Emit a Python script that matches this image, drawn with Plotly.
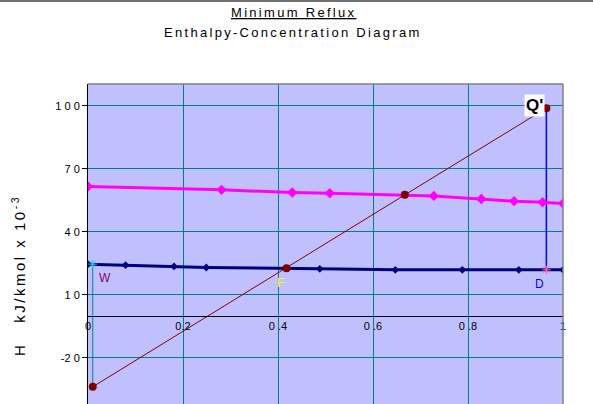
import plotly.graph_objects as go

# Saturated vapour enthalpy curve
vap_x = [0.0, 0.281, 0.43, 0.509, 0.728, 0.828, 0.897, 0.957, 1.0]
vap_h = [61.6, 60.0, 58.7, 58.4, 57.1, 55.6, 54.6, 54.1, 53.5]
# Saturated liquid enthalpy curve
liq_x = [0.0, 0.079, 0.181, 0.249, 0.488, 0.647, 0.788, 0.907, 1.0]
liq_h = [24.6, 24.1, 23.5, 23.0, 22.4, 21.9, 21.9, 21.9, 21.9]
# Minimum-reflux operating line: W', F, intersection with vapour line, Q'
op_x = [0.01, 0.418, 0.667, 0.965]
op_h = [-33.8, 22.7, 57.6, 98.9]
# Compositions
xW = 0.01
xD = 0.965
hW_liq = 24.6
hD_liq = 21.9

x_ticks = [0, 0.2, 0.4, 0.6, 0.8, 1]
x_ticklabels = ["0", "0.2", "0 .4", "0 .6", "0 .8", "1"]
y_ticks = [-20, 10, 40, 70, 100]
y_ticklabels = ["-2 0", "1 0", "4 0", "7 0", "1 0 0"]

YMIN, YMAX = -42.0, 110.4
FONT = "Liberation Sans, Arial, sans-serif"
GRID = "#008080"

fig = go.Figure()

fig.add_trace(go.Scatter(x=[xW, xW], y=[hW_liq, op_h[0]], mode="lines",
                         line=dict(color=GRID, width=1), hoverinfo="skip"))
fig.add_trace(go.Scatter(x=[xD, xD], y=[op_h[-1], hD_liq], mode="lines",
                         line=dict(color="#0000FF", width=1.5), hoverinfo="skip"))
fig.add_trace(go.Scatter(x=vap_x, y=vap_h, mode="lines+markers",
                         line=dict(color="#FF00FF", width=3),
                         marker=dict(symbol="diamond", size=8, color="#FF00FF")))
fig.add_trace(go.Scatter(x=liq_x, y=liq_h, mode="lines+markers",
                         line=dict(color="#000080", width=3),
                         marker=dict(symbol="diamond", size=6, color="#000080")))
fig.add_trace(go.Scatter(x=op_x, y=op_h, mode="lines+markers",
                         line=dict(color="#800000", width=1),
                         marker=dict(symbol="circle", size=8, color="#800000")))
fig.add_trace(go.Scatter(x=[xW], y=[hW_liq], mode="markers",
                         marker=dict(symbol="asterisk-open", size=7,
                                     line=dict(color=GRID, width=1))))
fig.add_trace(go.Scatter(x=[xD], y=[hD_liq], mode="markers",
                         marker=dict(symbol="asterisk-open", size=7,
                                     line=dict(color="#00FFFF", width=1))))

ls = '<span style="letter-spacing:{}px">{}</span>'
ann = [
    dict(text=ls.format(2.3, "<u>Minimum Reflux</u>"), x=293, y=13),
    dict(text=ls.format(2.3, "Enthalpy-Concentration Diagram"), x=293, y=33),
]
annotations = []
for a in ann:
    annotations.append(dict(text=a["text"], xref="paper", yref="paper",
                            x=(a["x"] - 88) / 475, y=(404 - a["y"]) / 320,
                            showarrow=False, xanchor="center", yanchor="middle",
                            font=dict(family=FONT, size=13, color="#000000")))
annotations.append(dict(text=ls.format(2.5, "H   kJ/kmol x 10<sup>-3</sup>"),
                        xref="paper", yref="paper", x=(18 - 88) / 475,
                        y=(404 - 276) / 320, textangle=-90, showarrow=False,
                        xanchor="center", yanchor="middle",
                        font=dict(family=FONT, size=15, color="#000000")))
annotations.append(dict(text="W", x=0.035, y=18.0, xref="x", yref="y", showarrow=False,
                        font=dict(family=FONT, size=12, color="#800080")))
annotations.append(dict(text="F", x=0.405, y=15.5, xref="x", yref="y", showarrow=False,
                        font=dict(family=FONT, size=12, color="#FFFF00")))
annotations.append(dict(text="D", x=0.951, y=15.0, xref="x", yref="y", showarrow=False,
                        font=dict(family=FONT, size=12, color="#0000FF")))
annotations.append(dict(text="<b>Q'</b>", x=(545 - 88) / 475, y=(404 - 94) / 320,
                        xref="paper", yref="paper", showarrow=False,
                        bgcolor="#FFFFFF", borderpad=1,
                        font=dict(family=FONT, size=17, color="#000000")))

fig.update_layout(
    width=593, height=404,
    margin=dict(l=88, r=30, t=84, b=0),
    paper_bgcolor="#FFFFFF", plot_bgcolor="#C0C0FF",
    showlegend=False,
    hovermode=False,
    annotations=annotations,
    xaxis=dict(range=[0, 1], tickvals=x_ticks, ticktext=x_ticklabels,
               showgrid=True, gridcolor=GRID, gridwidth=1,
               zeroline=False, showline=True, linecolor="#000000", linewidth=1,
               anchor="free", position=(0 - YMIN) / (YMAX - YMIN),
               ticks="", tickfont=dict(family=FONT, size=11, color="#000000")),
    yaxis=dict(range=[YMIN, YMAX], tickvals=y_ticks, ticktext=y_ticklabels,
               showgrid=True, gridcolor=GRID, gridwidth=1,
               zeroline=False, showline=True, linecolor="#000000", linewidth=1,
               ticks="outside", ticklen=5, tickcolor="#000000",
               tickfont=dict(family=FONT, size=11, color="#000000")),
    shapes=[
        dict(type="line", xref="paper", yref="paper", x0=0, x1=1, y0=1, y1=1,
             line=dict(color="#808080", width=1.5)),
        dict(type="line", xref="paper", yref="paper", x0=1, x1=1, y0=0, y1=1,
             line=dict(color="#808080", width=1.5)),
        dict(type="line", xref="paper", yref="paper", x0=-88 / 475, x1=505 / 475,
             y0=1 + 83 / 320, y1=1 + 83 / 320,
             line=dict(color="#707070", width=2)),
    ],
)

fig.write_html("out.html", config={"displayModeBar": False},
               post_script="document.body.style.margin='0';")
